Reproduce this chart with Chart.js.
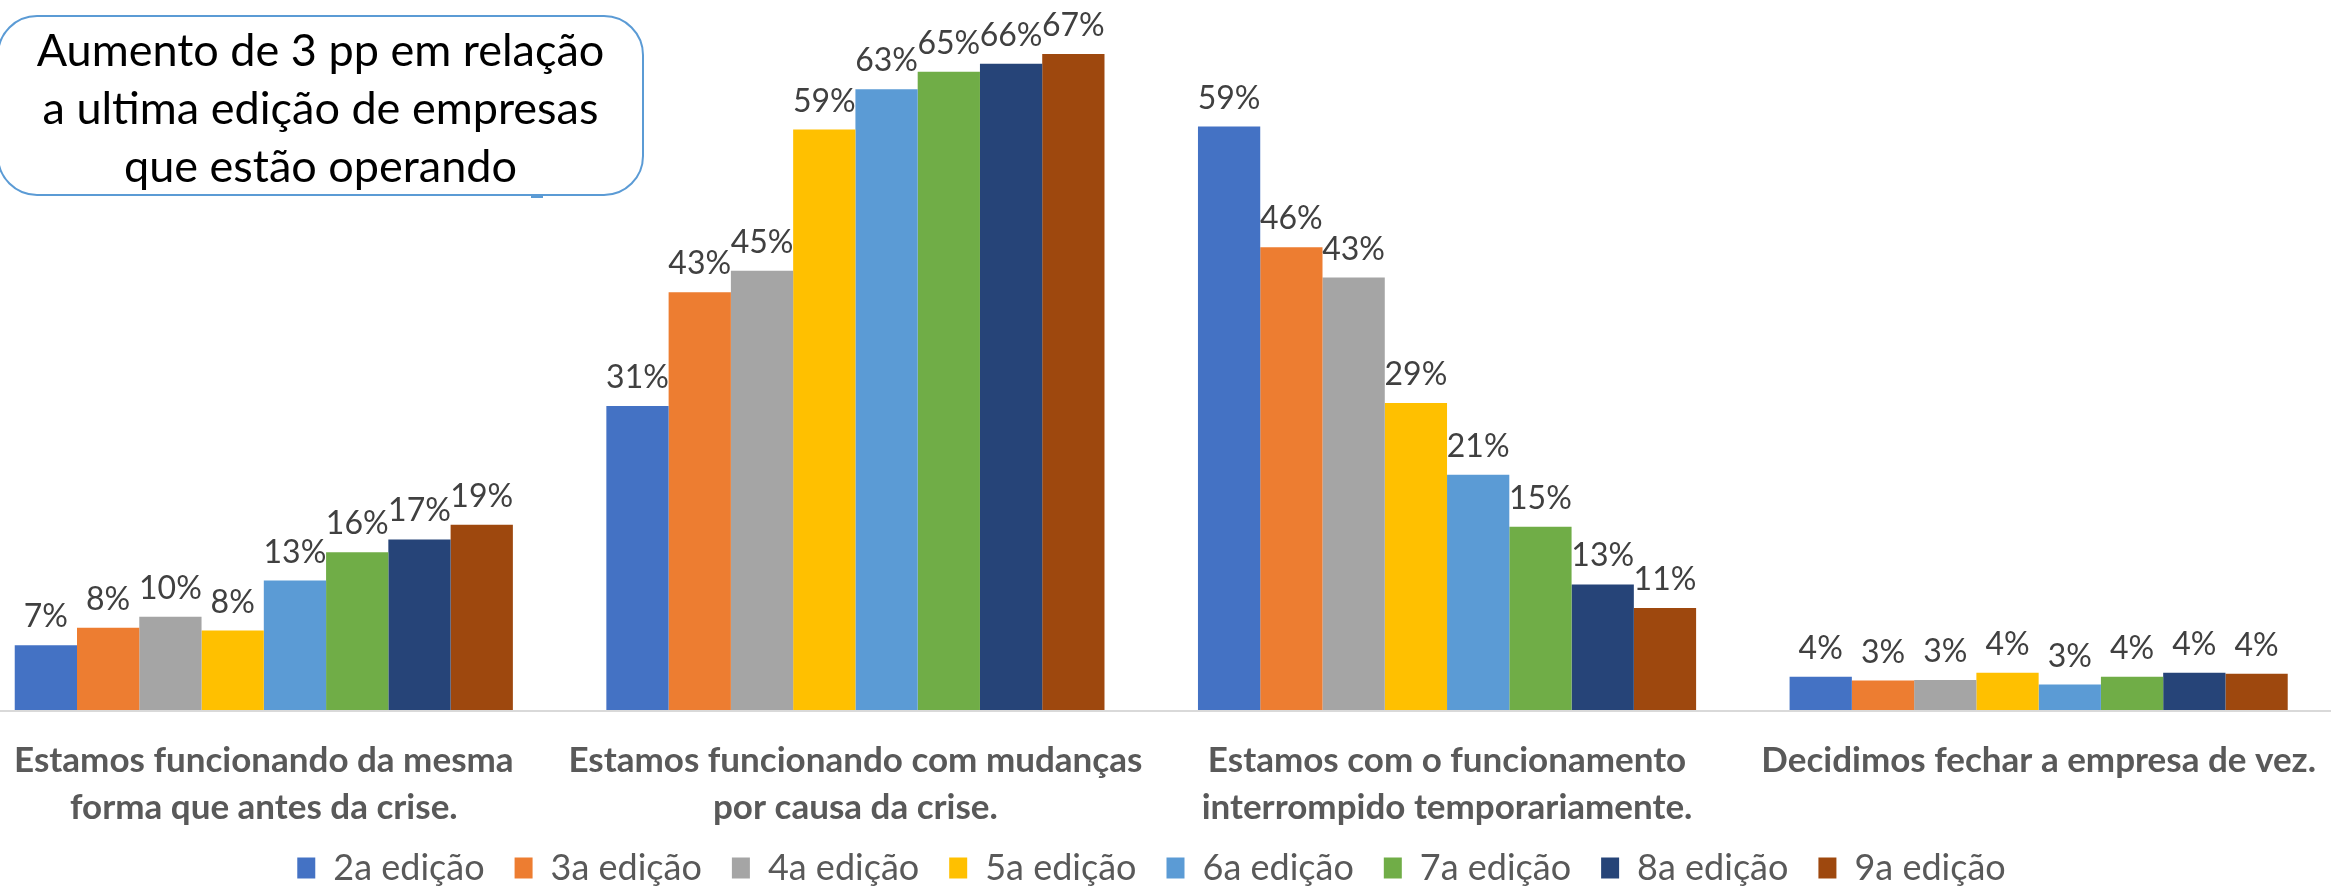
<!DOCTYPE html>
<html>
<head>
<meta charset="utf-8">
<script src="https://cdn.jsdelivr.net/npm/chart.js@4"></script>
<style>
  html, body { margin: 0; background: #fff; overflow: hidden; }
  #wrap { position: relative; width: 2331px; height: 891px; overflow: hidden; }
  /* plot runs a little past the left edge, like the original */
  #chart { position: absolute; left: -32px; top: 0; }
  #note {
    position: absolute; left: -3px; top: 15px; width: 643px; height: 174px;
    border: 2px solid #5B9BD5; border-radius: 40px; background: #fff;
    font-family: Lato, sans-serif; font-size: 45px; line-height: 58px; color: #000;
    text-align: center; padding-top: 3px; box-sizing: content-box;
  }
  #handle { position: absolute; left: 531px; top: 195px; width: 12px; height: 3px; background: #5B9BD5; }
</style>
</head>
<body>
<div id="wrap">
  <canvas id="chart" width="2367" height="891"></canvas>
  <div id="note">Aumento de 3 pp em relação<br>a ultima edição de empresas<br>que estão operando</div>
  <div id="handle"></div>
</div>
<script>
// categories (answer options)
const categories = [
  ['Estamos funcionando da mesma', 'forma que antes da crise.'],
  ['Estamos funcionando com mudanças', 'por causa da crise.'],
  ['Estamos com o funcionamento', 'interrompido temporariamente.'],
  ['Decidimos fechar a empresa de vez.']
];

const editions = ['2a edição', '3a edição', '4a edição', '5a edição', '6a edição', '7a edição', '8a edição', '9a edição'];
const colors = ['#4472C4', '#ED7D31', '#A5A5A5', '#FFC000', '#5B9BD5', '#70AD47', '#264478', '#9E480E'];

// bar heights (%)
const ed2 = [6.6, 31.0, 59.5, 3.4];
const ed3 = [8.4, 42.6, 47.2, 3.0];
const ed4 = [9.5, 44.8, 44.1, 3.05];
const ed5 = [8.1, 59.2, 31.3, 3.8];
const ed6 = [13.2, 63.3, 24.0, 2.6];
const ed7 = [16.1, 65.1, 18.7, 3.4];
const ed8 = [17.4, 65.9, 12.8, 3.8];
const ed9 = [18.9, 66.9, 10.4, 3.7];

// printed data labels (%)
const lab2 = [7, 31, 59, 4];
const lab3 = [8, 43, 46, 3];
const lab4 = [10, 45, 43, 3];
const lab5 = [8, 59, 29, 4];
const lab6 = [13, 63, 21, 3];
const lab7 = [16, 65, 15, 4];
const lab8 = [17, 66, 13, 4];
const lab9 = [19, 67, 11, 4];

const seriesValues = [ed2, ed3, ed4, ed5, ed6, ed7, ed8, ed9];
const seriesLabels = [lab2, lab3, lab4, lab5, lab6, lab7, lab8, lab9];

// draws the "NN%" labels above each bar
const valueLabels = {
  id: 'valueLabels',
  afterDatasetsDraw(chart) {
    const ctx = chart.ctx;
    ctx.save();
    ctx.font = '32px Lato';
    ctx.fillStyle = '#404040';
    ctx.textAlign = 'center';
    ctx.textBaseline = 'alphabetic';
    chart.data.datasets.forEach((ds, i) => {
      chart.getDatasetMeta(i).data.forEach((bar, j) => {
        ctx.fillText(ds.printed[j] + '%', bar.x, bar.y - 18);
      });
    });
    ctx.restore();
  }
};

// light grey baseline across the whole width
const baseLine = {
  id: 'baseLine',
  beforeDatasetsDraw(chart) {
    const ctx = chart.ctx;
    const y = chart.scales.y.getPixelForValue(0);
    ctx.save();
    ctx.strokeStyle = '#D9D9D9';
    ctx.lineWidth = 2;
    ctx.beginPath();
    ctx.moveTo(0, y + 1);
    ctx.lineTo(chart.width, y + 1);
    ctx.stroke();
    ctx.restore();
  }
};

// pull the legend up closer to the axis labels
const legendShift = {
  id: 'legendShift',
  afterLayout(chart) {
    chart.legend.top -= 15;
    chart.legend.bottom -= 15;
  }
};

const datasets = editions.map((name, i) => ({
  label: name,
  data: seriesValues[i],
  printed: seriesLabels[i],
  backgroundColor: colors[i],
  borderWidth: 0
}));

new Chart(document.getElementById('chart'), {
  type: 'bar',
  data: { labels: categories, datasets: datasets },
  options: {
    responsive: false,
    animation: false,
    devicePixelRatio: 1,
    layout: { padding: { left: 0, right: 0, top: 4, bottom: -20 } },
    datasets: { bar: { categoryPercentage: 0.842, barPercentage: 1.0 } },
    scales: {
      x: {
        grid: { display: false },
        border: { display: false },
        afterFit(scale) { scale.height = 125; },
        ticks: {
          color: '#595959',
          font: { family: 'Lato', size: 35, weight: 'bold', lineHeight: 1.343 },
          padding: 19,
          maxRotation: 0,
          autoSkip: false
        }
      },
      y: {
        display: false,
        min: 0,
        max: 72
      }
    },
    plugins: {
      legend: {
        position: 'bottom',
        labels: {
          color: '#595959',
          font: { family: 'Lato', size: 36 },
          boxWidth: 18,
          boxHeight: 21,
          padding: 30
        }
      },
      tooltip: { enabled: false }
    }
  },
  plugins: [valueLabels, baseLine, legendShift]
});
</script>
</body>
</html>
